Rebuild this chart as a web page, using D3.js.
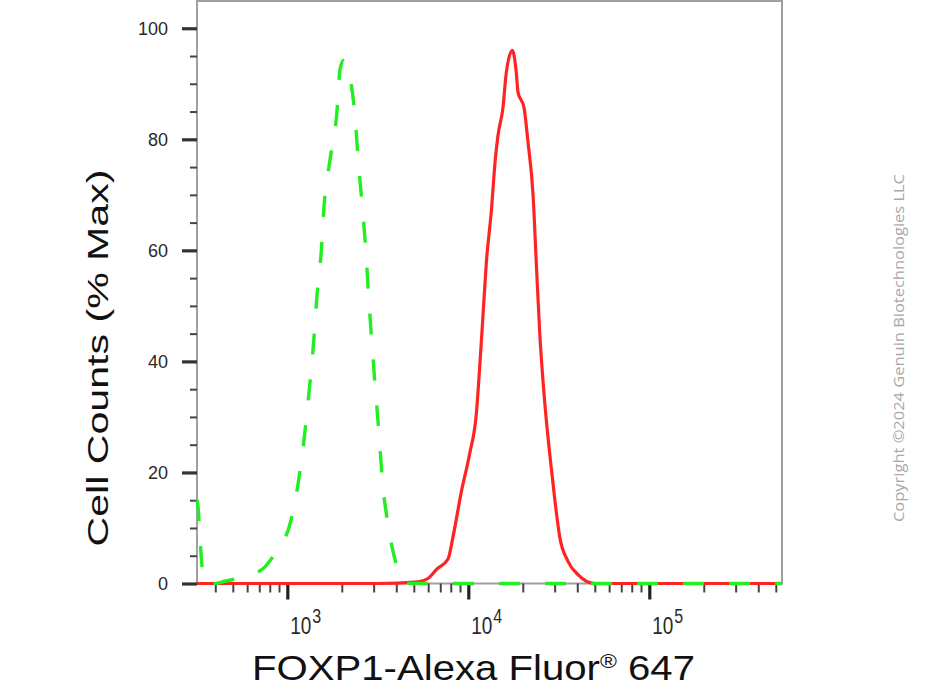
<!DOCTYPE html>
<html>
<head>
<meta charset="utf-8">
<script src="https://cdn.jsdelivr.net/npm/d3@7"></script>
<style>
  html, body { margin: 0; padding: 0; background: #fff; }
  svg { display: block; }
</style>
</head>
<body>
<svg id="chart" width="949" height="700"></svg>
<script>
// ---------------- data ----------------
// Isotype / unstained control (green dashed)
const controlIntensity = [317, 321, 329.5, 342, 355.5, 398.6, 452.7, 514, 583.9, 663, 753, 823, 911, 1044, 1165, 1253, 1330, 1399, 1459, 1541, 1595, 1722, 1875, 1955, 2039, 2173, 2366, 2468, 2597, 2722, 2817, 2938, 3064, 3212, 3349, 3601, 3936, 4375, 4887, 10000, 100000, 541000];
const controlPercent   = [15, 14, 8, 1.5, 0, 0, 0.4, 0.8, 1.2, 1.8, 3, 4.6, 6.5, 11.2, 19.4, 27.5, 35.7, 43.6, 51.9, 59.9, 67.9, 76.3, 84.5, 92.5, 94.2, 92.3, 84.2, 76, 67.8, 59.6, 51.4, 43.1, 35.1, 26.9, 18.7, 10.6, 4.3, 0.2, 0, 0, 0, 0];

// FOXP1 stained sample (red solid)
const foxp1Intensity = [317, 3170, 5274, 5988, 6657, 7725, 8232, 9150, 10179, 11070, 11561, 12057, 12574, 13400, 14100, 14590, 15547, 16214, 17504, 18415, 18817, 20311, 21372, 22778, 23754, 24804, 26431, 28163, 30009, 31989, 35547, 40365, 49924, 541000];
const foxp1Percent   = [0, 0, 0.3, 0.9, 2.5, 4.4, 8.4, 16.5, 23.4, 30.5, 39, 48.3, 57.7, 67, 76.4, 80.7, 85.7, 92, 96, 92, 88.5, 85.7, 79.5, 70.1, 57.7, 45.2, 32.7, 23.4, 15.3, 8.4, 4, 1.6, 0, 0];

// ticks
const yMajorTicks = [0, 20, 40, 60, 80, 100];
const yMinorTicks = [5, 10, 15, 25, 30, 35, 45, 50, 55, 65, 70, 75, 85, 90, 95];
const xMajorTicks = [1e3, 1e4, 1e5];
const xTickExponents = ["3", "4", "5"];
const xMinorTicks = [400, 500, 600, 700, 800, 900,
  2000, 3000, 4000, 5000, 6000, 7000, 8000, 9000,
  20000, 30000, 40000, 50000, 60000, 70000, 80000, 90000,
  200000, 300000, 400000, 500000];

const xTitle = "FOXP1-Alexa Fluor";
const xTitleSup = "\u00AE";
const xTitleEnd = " 647";
const yTitle = "Cell Counts (% Max)";
const copyright = "Copyright \u00A92024 Genuin Biotechnologies LLC";

// ---------------- layout ----------------
const svg = d3.select("#chart");
const L = 197, R = 782, T = 0.5, B = 583.5;
const FONT = "'Liberation Sans', Arial, Helvetica, sans-serif";

const x = d3.scaleLog().domain([317, 541000]).range([L, R]);
const y = d3.scaleLinear().domain([0, 105]).range([B, T]);

// frame
svg.append("rect")
  .attr("x", L).attr("y", T + 0.5)
  .attr("width", R - L).attr("height", B - T - 0.5)
  .attr("fill", "none").attr("stroke", "#a0a0a0").attr("stroke-width", 2);

// y axis ticks
const yAxisMajor = d3.axisLeft(y).tickValues(yMajorTicks).tickSize(15).tickFormat("");
const yAxisMinor = d3.axisLeft(y).tickValues(yMinorTicks).tickSize(7).tickFormat("");
const gyMinor = svg.append("g").attr("transform", `translate(${L},0)`).call(yAxisMinor);
const gyMajor = svg.append("g").attr("transform", `translate(${L},0)`).call(yAxisMajor);
[gyMinor, gyMajor].forEach(g => g.select(".domain").remove());
gyMinor.selectAll(".tick line").attr("stroke", "#444").attr("stroke-width", 2);
gyMajor.selectAll(".tick line").attr("stroke", "#333").attr("stroke-width", 3.2);

// y tick labels
svg.append("g").selectAll("text").data(yMajorTicks).join("text")
  .attr("x", 168).attr("y", d => y(d)).attr("dy", "0.36em")
  .attr("text-anchor", "end")
  .attr("font-family", FONT).attr("font-size", 18).attr("fill", "#2a2a2a")
  .text(d => d);

// x axis ticks
const xAxisMajor = d3.axisBottom(x).tickValues(xMajorTicks).tickSize(16).tickFormat("");
const xAxisMinor = d3.axisBottom(x).tickValues(xMinorTicks).tickSize(9).tickFormat("");
const gxMinor = svg.append("g").attr("transform", `translate(0,${B})`).call(xAxisMinor);
const gxMajor = svg.append("g").attr("transform", `translate(0,${B})`).call(xAxisMajor);
[gxMinor, gxMajor].forEach(g => g.select(".domain").remove());
gxMinor.selectAll(".tick line").attr("stroke", "#444").attr("stroke-width", 2);
gxMajor.selectAll(".tick line").attr("stroke", "#222").attr("stroke-width", 3.2);

// x tick labels (10^n)
const xl = svg.append("g").selectAll("g").data(xMajorTicks).join("g")
  .attr("transform", d => `translate(${x(d) + 3},633.5) scale(1,1.25)`);
xl.append("text")
  .attr("font-family", FONT).attr("font-size", 19).attr("fill", "#2a2a2a")
  .text("10");
xl.append("text")
  .attr("x", 22).attr("y", -8.2)
  .attr("font-family", FONT).attr("font-size", 16).attr("fill", "#2a2a2a")
  .text((d, i) => xTickExponents[i]);

// curves
const line = d3.line()
  .x(d => x(d[0]))
  .y(d => y(d[1]))
  .curve(d3.curveMonotoneX);

const foxp1Data = foxp1Intensity.map((v, i) => [v, foxp1Percent[i]]);
const controlData = controlIntensity.map((v, i) => [v, controlPercent[i]]);

svg.append("path").datum(foxp1Data)
  .attr("d", line)
  .attr("fill", "none").attr("stroke", "#ff2424").attr("stroke-width", 3.2)
  .attr("stroke-linejoin", "round");

svg.append("path").datum(controlData)
  .attr("d", line)
  .attr("fill", "none").attr("stroke", "#22ee22").attr("stroke-width", 3.4)
  .attr("stroke-dasharray", "21,25");

// axis titles
const xt = svg.append("text")
  .attr("x", 252).attr("y", 680)
  .attr("font-family", FONT).attr("font-size", 35).attr("fill", "#111")
  .attr("textLength", 443).attr("lengthAdjust", "spacingAndGlyphs");
xt.append("tspan").text(xTitle);
xt.append("tspan").attr("font-size", 20).attr("dy", -12).text(xTitleSup);
xt.append("tspan").attr("dy", 12).text(xTitleEnd);

svg.append("text")
  .attr("transform", "translate(108,358) rotate(-90)")
  .attr("text-anchor", "middle")
  .attr("font-family", FONT).attr("font-size", 30).attr("fill", "#111")
  .attr("textLength", 377).attr("lengthAdjust", "spacingAndGlyphs")
  .text(yTitle);

svg.append("text")
  .attr("transform", "translate(904,348) rotate(-90)")
  .attr("text-anchor", "middle")
  .attr("font-family", "'Open Sans', 'Noto Sans', sans-serif").attr("font-size", 14.5)
  .attr("fill", "#a8a8a8")
  .attr("textLength", 348).attr("lengthAdjust", "spacingAndGlyphs")
  .text(copyright);
</script>
</body>
</html>
